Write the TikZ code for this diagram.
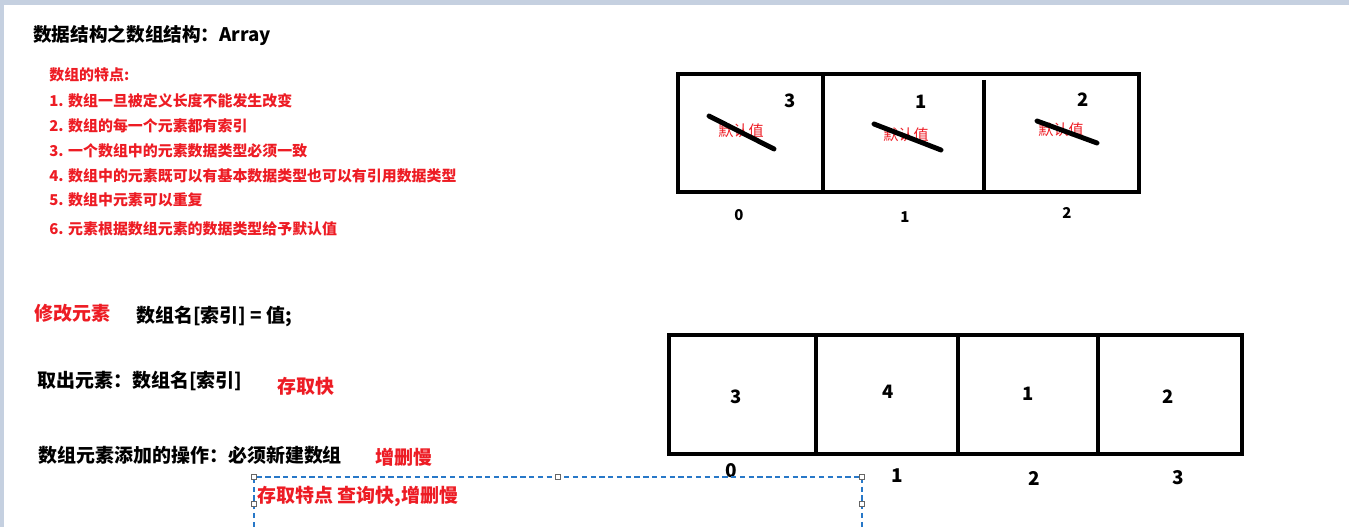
\documentclass[tikz,border=0pt]{standalone}
\usepackage{fontspec}
\setmainfont{Noto Sans CJK SC}
\usetikzlibrary{positioning}
\definecolor{notered}{RGB}{237,28,36}
\definecolor{framegray}{RGB}{197,208,224}
\definecolor{selblue}{RGB}{40,120,200}
\tikzset{
	headtext/.style={anchor=west, inner sep=0pt, font=\fontsize{10.6}{12}\selectfont\bfseries},
	listtext/.style={anchor=west, inner sep=0pt, font=\fontsize{8.5}{10}\selectfont\bfseries\color{notered}},
	bigtext/.style={anchor=west, inner sep=0pt, font=\fontsize{10.8}{12}\selectfont\bfseries},
	redtext/.style={bigtext, text=notered},
	cellnum/.style={inner sep=0pt, font=\fontsize{10.5}{12}\selectfont\bfseries},
	idxsmall/.style={inner sep=0pt, font=\fontsize{8.5}{10}\selectfont\bfseries},
	idxbig/.style={inner sep=0pt, font=\fontsize{10.8}{12}\selectfont\bfseries},
	defval/.style={inner sep=0pt, font=\fontsize{8.6}{10}\selectfont\color{notered}},
	arrayline/.style={line width=2.8pt},
	strike/.style={line width=2.8pt, line cap=round},
	handle/.style={draw=gray!80!black, fill=white, line width=0.4pt, minimum size=3pt, inner sep=0pt}
}

\begin{document}
\begin{tikzpicture}[x=0.02cm, y=-0.02cm]
  \useasboundingbox (0,0) rectangle (1349,527);
  % window frame
  \fill[framegray] (0,0) rectangle (1349,5);
  \fill[framegray] (0,0) rectangle (4,527);

  % title and list
  \node[headtext] (title) at (33,35) {数据结构之数组结构：Array};
  \node[listtext] (feat) at (49,75) {数组的特点:};
  \foreach \y/\t [count=\i] in {101/数组一旦被定义长度不能发生改变, 126/数组的每一个元素都有索引,
      151/一个数组中的元素数据类型必须一致, 176/数组中的元素既可以有基本数据类型也可以有引用数据类型,
      200/数组中元素可以重复, 229/元素根据数组元素的数据类型给予默认值}
    \node[listtext] (item\i) at (49,\y) {\i. \t};

  % first array
  \draw[arrayline] (678,74) rectangle (1139,192);
  \draw[arrayline] (823,74) -- (823,192);
  \draw[arrayline] (984,80) -- (984,192);
  \foreach \x/\v/\y [count=\i] in {790/3/101, 921/1/102, 1083/2/100}
    \node[cellnum] (oldval\i) at (\x,\y) {\v};
  \foreach \x/\y [count=\i] in {741/131, 906/135, 1061/130}
    \node[defval] (def\i) at (\x,\y) {默认值};
  \draw[strike] (709,116) -- (774,149);
  \draw[strike] (874,124) -- (941,150);
  \draw[strike] (1037,121) -- (1097,143);
  \foreach \x/\y [count=\i] in {739/215, 905/217, 1067/213}
    \node[idxsmall] (oldidx\i) at (\x,\y) {\the\numexpr\i-1\relax};

  % operations
  \node[redtext] (modify) at (34,313) {修改元素};
  \node[bigtext] (assign) at (136,316) {数组名[索引] = 值;};
  \node[bigtext] (fetch) at (37,381) {取出元素：数组名[索引]};
  \node[redtext] (fast) at (277,386) {存取快};
  \node[bigtext] (append) at (38,455) {数组元素添加的操作：必须新建数组};
  \node[redtext] (slow) at (375,457) {增删慢};

  % second array
  \draw[arrayline] (669,335) rectangle (1242,454);
  \foreach \x in {816, 958, 1098}
    \draw[arrayline] (\x,335) -- (\x,454);
  \foreach \x/\v/\y [count=\i] in {736/3/397, 888/4/392, 1028/1/394, 1168/2/397}
    \node[cellnum] (newval\i) at (\x,\y) {\v};
  \foreach \x/\y [count=\i] in {731/471, 897/476, 1034/478, 1178/478}
    \node[idxbig] (newidx\i) at (\x,\y) {\the\numexpr\i-1\relax};

  % selected text box
  \draw[selblue, line width=0.6pt, dash pattern=on 3pt off 2pt]
    (254,527) -- (254,477) -- (862,477) -- (862,527);
  \foreach \x/\y [count=\i] in {254/477, 558/477, 862/477, 254/504, 862/504}
    \node[handle] (grip\i) at (\x,\y) {};
  \node[redtext] (summary) at (257,497) {存取特点 查询快,增删慢};
\end{tikzpicture}
\end{document}
